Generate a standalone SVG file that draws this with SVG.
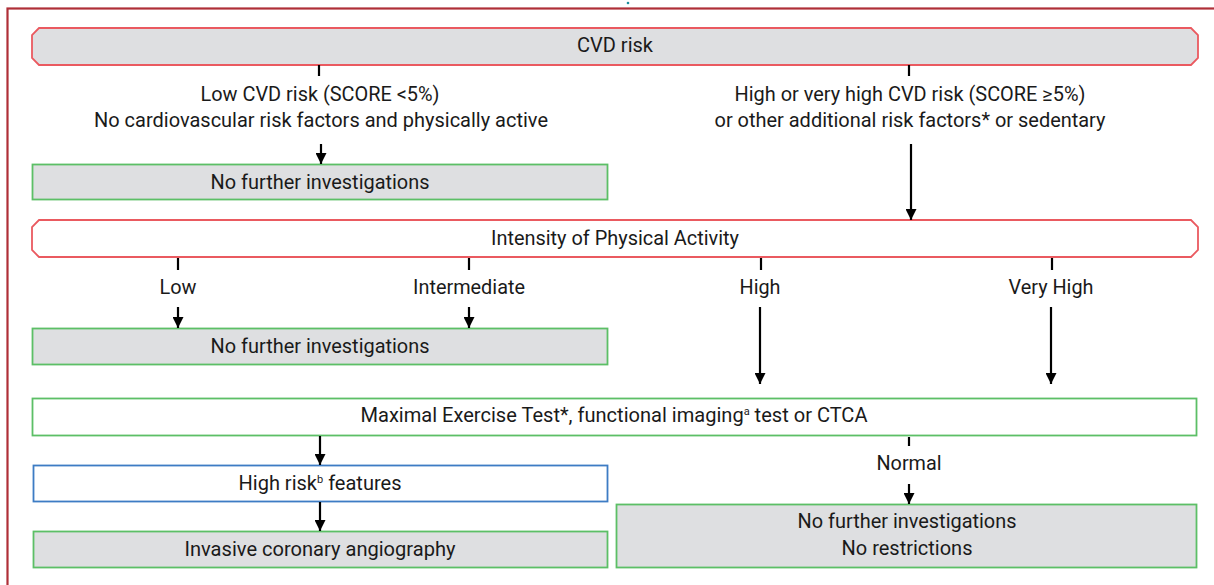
<svg xmlns="http://www.w3.org/2000/svg" width="1214" height="585" viewBox="0 0 1214 585">
<style>
text{font-family:"Roboto","Liberation Sans",sans-serif;font-size:20px;fill:#1a1a1a;text-anchor:middle}
.sup{font-size:11px}
.red{stroke:#ea5a60;stroke-width:1.8}
.grn{stroke:#5cbf66;stroke-width:1.8}
.blu{stroke:#3d7cc4;stroke-width:1.8}
.gry{fill:#dedfe1}
.wht{fill:#ffffff}
.con line{stroke:#000;stroke-width:2.2}
</style>
<defs>
<marker id="ah" markerUnits="userSpaceOnUse" markerWidth="11" markerHeight="11" refX="11" refY="5.5" orient="auto" viewBox="0 0 11 11">
<path d="M0,0 L11,5.5 L0,11 z" fill="#000"/>
</marker>
</defs>
<rect x="0" y="0" width="1214" height="585" fill="#fff"/>
<rect x="7.5" y="8.5" width="1230" height="600" fill="none" stroke="#af2f38" stroke-width="2.2"/>
<circle cx="628" cy="3" r="1.3" fill="#1b8fa0"/>

<g id="n-cvd">
<polygon class="red gry" points="39,28 1191,28 1198,35 1198,58 1191,65 39,65 32,58 32,35"/>
<text x="615" y="52" textLength="76" lengthAdjust="spacingAndGlyphs">CVD risk</text>
</g>
<g id="n-low-label">
<text x="320" y="101" textLength="239" lengthAdjust="spacingAndGlyphs">Low CVD risk (SCORE &lt;5%)</text>
<text x="321" y="127" textLength="454" lengthAdjust="spacingAndGlyphs">No cardiovascular risk factors and physically active</text>
</g>
<g id="n-high-label">
<text x="910" y="101" textLength="351" lengthAdjust="spacingAndGlyphs">High or very high CVD risk (SCORE ≥5%)</text>
<text x="910" y="127" textLength="391" lengthAdjust="spacingAndGlyphs">or other additional risk factors* or sedentary</text>
</g>
<g id="n-nofurther1">
<rect class="grn gry" x="32.5" y="164.5" width="575" height="35"/>
<text x="320" y="189" textLength="219" lengthAdjust="spacingAndGlyphs">No further investigations</text>
</g>
<g id="n-intensity">
<polygon class="red wht" points="39,220 1191,220 1198,227 1198,250 1191,257 39,257 32,250 32,227"/>
<text x="615" y="245" textLength="248" lengthAdjust="spacingAndGlyphs">Intensity of Physical Activity</text>
</g>
<g id="n-levels">
<text x="178" y="294" textLength="37" lengthAdjust="spacingAndGlyphs">Low</text>
<text x="469" y="294" textLength="112" lengthAdjust="spacingAndGlyphs">Intermediate</text>
<text x="760" y="294" textLength="41" lengthAdjust="spacingAndGlyphs">High</text>
<text x="1051" y="294" textLength="85" lengthAdjust="spacingAndGlyphs">Very High</text>
</g>
<g id="n-nofurther2">
<rect class="grn gry" x="32.5" y="328.5" width="575" height="36"/>
<text x="320" y="353" textLength="219" lengthAdjust="spacingAndGlyphs">No further investigations</text>
</g>
<g id="n-maximal">
<rect class="grn wht" x="32.5" y="398.5" width="1164" height="37"/>
<text x="614" y="422" textLength="507" lengthAdjust="spacingAndGlyphs">Maximal Exercise Test*, functional imaging<tspan class="sup" dy="-7">a</tspan><tspan dy="7"> test or CTCA</tspan></text>
</g>
<g id="n-highrisk">
<rect class="blu wht" x="33.5" y="465.5" width="574" height="36"/>
<text x="320" y="490" textLength="163" lengthAdjust="spacingAndGlyphs">High risk<tspan class="sup" dy="-7">b</tspan><tspan dy="7"> features</tspan></text>
</g>
<g id="n-invasive">
<rect class="grn gry" x="33.5" y="531.5" width="574" height="36"/>
<text x="320" y="556" textLength="271" lengthAdjust="spacingAndGlyphs">Invasive coronary angiography</text>
</g>
<g id="n-normal-label">
<text x="909" y="470" textLength="65" lengthAdjust="spacingAndGlyphs">Normal</text>
</g>
<g id="n-norestrict">
<rect class="grn gry" x="616.5" y="504.5" width="580" height="63"/>
<text x="907" y="528" textLength="219" lengthAdjust="spacingAndGlyphs">No further investigations</text>
<text x="907" y="555" textLength="131" lengthAdjust="spacingAndGlyphs">No restrictions</text>
</g>

<g id="connectors" class="con">
<line x1="319" y1="65" x2="319" y2="76"/>
<line x1="321" y1="144" x2="321" y2="164" marker-end="url(#ah)"/>
<line x1="909" y1="65" x2="909" y2="76"/>
<line x1="911" y1="144" x2="911" y2="220" marker-end="url(#ah)"/>
<line x1="178" y1="258" x2="178" y2="270"/>
<line x1="469" y1="258" x2="469" y2="270"/>
<line x1="761" y1="258" x2="761" y2="270"/>
<line x1="1052" y1="258" x2="1052" y2="270"/>
<line x1="178" y1="307" x2="178" y2="328" marker-end="url(#ah)"/>
<line x1="469" y1="307" x2="469" y2="328" marker-end="url(#ah)"/>
<line x1="760" y1="307" x2="760" y2="384" marker-end="url(#ah)"/>
<line x1="1051" y1="307" x2="1051" y2="384" marker-end="url(#ah)"/>
<line x1="320" y1="436" x2="320" y2="465" marker-end="url(#ah)"/>
<line x1="320" y1="502" x2="320" y2="531" marker-end="url(#ah)"/>
<line x1="909" y1="437" x2="909" y2="446"/>
<line x1="909" y1="484" x2="909" y2="504" marker-end="url(#ah)"/>
</g>
</svg>
